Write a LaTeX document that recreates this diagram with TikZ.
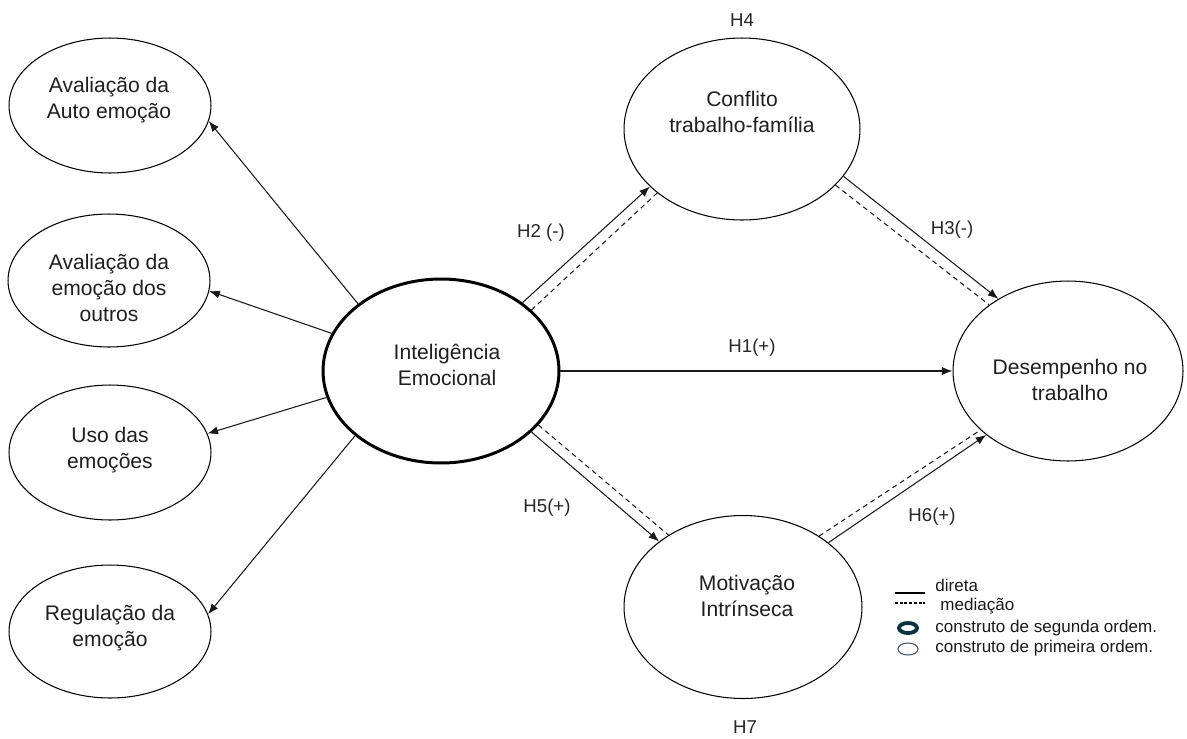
\documentclass[tikz,border=0pt]{standalone}
\usepackage{fontspec}
\setmainfont{Liberation Sans}
\usetikzlibrary{arrows.meta,shapes.geometric}
\definecolor{legdark}{HTML}{0F3441}
\definecolor{leglight}{HTML}{3A5564}
\begin{document}
\begin{tikzpicture}[x=0.02cm,y=-0.02cm,
  ell/.style={ellipse,draw,line width=0.6pt,inner sep=0pt},
  txt/.style={align=center,font=\fontsize{12}{14.7}\selectfont,text=black!88,inner sep=0pt},
  hyp/.style={font=\fontsize{10.6}{12}\selectfont,text=black!85,inner sep=0pt},
  arr/.style={-{Latex[length=6pt,width=4.6pt]},line width=0.6pt,draw=black!90},
  med/.style={dash pattern=on 2.8pt off 2.2pt,line width=0.6pt,draw=black!90},
  leg/.style={anchor=west,font=\fontsize{9.7}{11}\selectfont,inner sep=0pt,text=black!90}]
\useasboundingbox (0,0) rectangle (1187,738);

% left first-order constructs
\node[ell,minimum width=4.04cm,minimum height=2.70cm] (e1) at (110,105.5) {};
\node[ell,minimum width=4.04cm,minimum height=2.66cm] (e2) at (109,280.5) {};
\node[ell,minimum width=4.04cm,minimum height=2.70cm] (e3) at (110,452.5) {};
\node[ell,minimum width=4.04cm,minimum height=2.66cm] (e4) at (110,631.5) {};
\node[txt] (t1) at (109,100) {Avaliação da\\Auto emoção};
\node[txt] (t2) at (109,288) {Avaliação da\\emoção dos\\outros};
\node[txt] (t3) at (110,450) {Uso das\\emoções};
\node[txt] (t4) at (110,628) {Regulação da\\emoção};

% central second-order construct
\node[ellipse,draw,line width=1.7pt,inner sep=0pt,minimum width=4.72cm,minimum height=3.68cm] (ie) at (441,371) {};
\node[txt] (tie) at (447,365) {Inteligência\\Emocional};

% right constructs
\node[ell,minimum width=4.72cm,minimum height=3.64cm] (cf) at (742,129) {};
\node[txt] (tcf) at (742,112) {Conflito\\trabalho-família};
\node[ell,minimum width=4.60cm,minimum height=3.60cm] (dp) at (1068,371) {};
\node[txt] (tdp) at (1070,380) {Desempenho no\\trabalho};
\node[ell,minimum width=4.76cm,minimum height=3.66cm] (mi) at (743,607) {};
\node[txt] (tmi) at (747,596) {Motivação\\Intrínseca};

% arrows to dimensions
\draw[arr] (ie.141.5) -- (e1.-9);
\draw[arr] (ie.161) -- (e2.-6);
\draw[arr] (ie.193) -- (e3.11);
\draw[arr] (ie.217) -- (e4.10);

% H1
\draw[arr] (ie.east) -- (dp.west);
% H2
\draw[arr] (ie.40.8) -- (cf.212.3);
\draw[med] (ie.34.7) -- (cf.217.3);
% H3
\draw[arr] (cf.-25) -- (dp.134.6);
\draw[med] (cf.-31.6) -- (dp.140.4);
% H5
\draw[arr] (ie.-34.3) -- (mi.142.1);
\draw[med] (ie.-29.9) -- (mi.136.5);
% H6
\draw[arr] (mi.37.7) -- (dp.218.1);
\draw[med] (mi.43.9) -- (dp.214.9);

% hypothesis labels
\node[hyp] (h4) at (742,20) {H4};
\node[hyp] (h2) at (541,233) {H2 (-)};
\node[hyp] (h3) at (952,230) {H3(-)};
\node[hyp] (h1) at (752,348) {H1(+)};
\node[hyp] (h5) at (547,508) {H5(+)};
\node[hyp] (h6) at (932,517) {H6(+)};
\node[hyp] (h7) at (745,727) {H7};

% legend
\draw[line width=0.6pt] (895,593) -- (925,593);
\draw[line width=0.6pt,dash pattern=on 1.6pt off 1.1pt] (895,603) -- (925,603);
\node[leg] (l1) at (935,585) {direta};
\node[leg] (l2) at (940,606) {mediação};
\node[ellipse,draw=legdark,line width=2.2pt,inner sep=0pt,minimum width=0.36cm,minimum height=0.2cm] (le1) at (908,628) {};
\node[ellipse,draw=leglight,line width=0.6pt,inner sep=0pt,minimum width=0.40cm,minimum height=0.24cm] (le2) at (908,649) {};
\node[leg] (l3) at (935,628) {construto de segunda ordem.};
\node[leg] (l4) at (935,648) {construto de primeira ordem.};
\end{tikzpicture}
\end{document}
